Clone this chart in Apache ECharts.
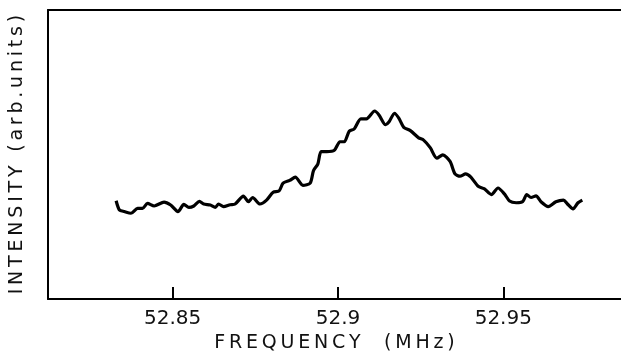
<!DOCTYPE html>
<html>
<head>
<meta charset="utf-8">
<script src="https://cdn.jsdelivr.net/npm/echarts@6/dist/echarts.min.js"></script>
<style>html,body{margin:0;padding:0;background:#fff;}#c{width:621px;height:358px;}</style>
</head>
<body>
<div id="c"></div>
<script>
const frequency = [52.8329,52.8339,52.8354,52.8374,52.8394,52.8409,52.8424,52.8444,52.8474,52.8494,52.8516,52.8534,52.8549,52.8564,52.8581,52.8594,52.8614,52.8629,52.8639,52.8654,52.8674,52.8689,52.8714,52.8729,52.8742,52.8764,52.8784,52.8804,52.8822,52.8834,52.8854,52.8871,52.8894,52.8916,52.8926,52.8939,52.8949,52.8966,52.8989,52.9006,52.9019,52.9034,52.9049,52.9069,52.9086,52.9111,52.9124,52.9144,52.9154,52.9171,52.9184,52.9199,52.9219,52.9244,52.9259,52.9279,52.9299,52.9317,52.9339,52.9354,52.9369,52.9386,52.9402,52.9424,52.9442,52.9464,52.9484,52.9504,52.9519,52.9539,52.9559,52.9571,52.9584,52.9599,52.9614,52.9636,52.9659,52.9682,52.9694,52.9711,52.9726,52.9739];
const intensity = [100,90.7,89,87.3,92.3,92.3,97.3,94.7,98.7,95.7,89,96.3,93.3,94.7,99.3,96.7,95.7,93.3,96.7,94,96,96.7,104.7,99,103.3,96.7,100.7,108.7,110,118,120.7,124,115.7,118,130.7,137.3,150,150,151.3,160,160,170.7,173,183.3,183.3,191.3,187.3,177.3,180,189,184,174.7,171.3,164,161.7,154,143.3,146.7,140,127.3,125,127.3,124,114.7,112.3,106.3,113,106.7,99.7,98,99.3,106.3,103.3,105,99,94,99,100.7,96.7,91.7,98,100.7];
const tickValues = [52.85, 52.9, 52.95];
const xName = 'FREQUENCY  (MHz)';
const yName = 'INTENSITY (arb.units)';

// widen letter spacing of the plotter-style titles with thin spaces
const spaced = s => s.split('').join('\u2009');

const chart = echarts.init(document.getElementById('c'), null, {renderer: 'canvas'});
const font = 'DejaVu Sans';
chart.setOption({
  animation: false,
  backgroundColor: '#fff',
  grid: {left: 42, right: 0, top: 10, bottom: 54},
  xAxis: [{
    type: 'value',
    min: 52.8123, max: 52.9856,
    name: spaced(xName), nameLocation: 'middle', nameGap: 34,
    nameTextStyle: {color: '#111', fontFamily: font, fontSize: 19},
    axisLine: {show: true, onZero: false, lineStyle: {color: '#000', width: 2}},
    axisTick: {show: true, inside: true, length: 12, customValues: tickValues, lineStyle: {color: '#000', width: 2}},
    axisLabel: {show: true, customValues: tickValues, color: '#111', fontFamily: font, fontSize: 20, margin: 10},
    splitLine: {show: false}
  }, {
    type: 'value', position: 'top',
    min: 52.8123, max: 52.9856,
    axisLine: {show: true, onZero: false, lineStyle: {color: '#000', width: 2}},
    axisTick: {show: false}, axisLabel: {show: false}, splitLine: {show: false}
  }],
  yAxis: {
    type: 'value', min: 0, max: 294,
    name: spaced(yName), nameLocation: 'middle', nameGap: 21, nameRotate: 90,
    nameTextStyle: {color: '#111', fontFamily: font, fontSize: 19},
    axisLine: {show: true, onZero: false, lineStyle: {color: '#000', width: 2}},
    axisTick: {show: false}, axisLabel: {show: false}, splitLine: {show: false}
  },
  series: [{
    type: 'line',
    xAxisIndex: 0,
    data: frequency.map((f, i) => [f, intensity[i]]),
    showSymbol: false, symbol: 'none',
    lineStyle: {color: '#000', width: 3.2},
    smooth: 0.25
  }]
});
</script>
</body>
</html>
